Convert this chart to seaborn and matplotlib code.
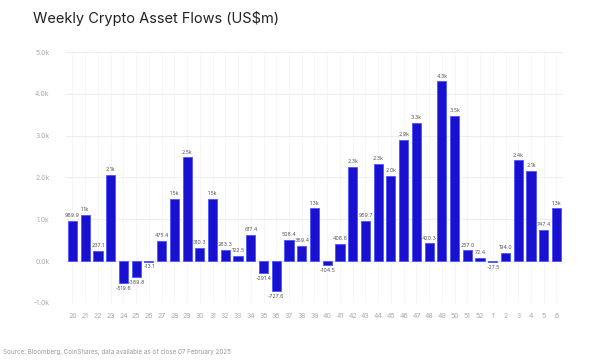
import seaborn as sns
import pandas as pd
import matplotlib.pyplot as plt
from matplotlib.ticker import FuncFormatter

weeks = [str(w) for w in range(20, 53)] + [str(w) for w in range(1, 7)]
flows = [969.9, 1100, 237.1, 2060, -519.6, -389.8, -13.1, 475.4, 1480, 2480,
         310.3, 1480, 263.3, 122.5, 617.4, -291.4, -727.6, 508.4, 369.4, 1260,
         -104.5, 406.6, 2260, 959.7, 2330, 2040, 2890, 3300, 420.3, 4300,
         3480, 257.0, 72.4, -27.5, 194.0, 2410, 2150, 747.4, 1260]

data = pd.DataFrame({"Week": weeks, "Flows": flows})

sns.set_theme()
sns.set_style("white")
plt.rcParams["font.family"] = ["Inter", "DejaVu Sans"]

fig = plt.figure(figsize=(5.9, 3.64), dpi=100)
ax = fig.add_axes([0.112, 0.168, 0.842, 0.689])

sns.barplot(data=data, x="Week", y="Flows", order=weeks, color="#1a10cf",
            saturation=1, width=0.72, edgecolor="#4a55ff", linewidth=0.6, ax=ax)


def fmt(v):
    if abs(v) >= 1000:
        return f"{v / 1000:.1f}k"
    return f"{v:.1f}"


ax.bar_label(ax.containers[0], labels=[fmt(v) for v in flows], padding=2,
             fontsize=3.8, color="#555555")

ax.set_ylim(-1000, 5000)
ax.set_yticks(range(-1000, 5001, 1000))
ax.yaxis.set_major_formatter(FuncFormatter(lambda v, p: f"{v / 1000:.1f}k"))
ax.tick_params(axis="both", length=0, labelsize=5, colors="#aaaaaa")
ax.tick_params(axis="y", pad=12)
ax.tick_params(axis="x", pad=7)
ax.grid(axis="y", color="#eeeeee", linewidth=0.8)
ax.grid(axis="x", color="#f5f5f5", linewidth=0.6)
ax.set_axisbelow(True)
ax.set_xlabel("")
ax.set_ylabel("")
sns.despine(ax=ax, left=True, bottom=True)

fig.text(0.056, 0.948, "Weekly Crypto Asset Flows (US$m)", fontsize=10.5,
         color="#222222", va="center")
fig.text(0.005, 0.032, "Source: Bloomberg, CoinShares, data available as of close 07 February 2025",
         fontsize=4.5, color="#999999", va="center")

fig.savefig("out.png", dpi=100)
